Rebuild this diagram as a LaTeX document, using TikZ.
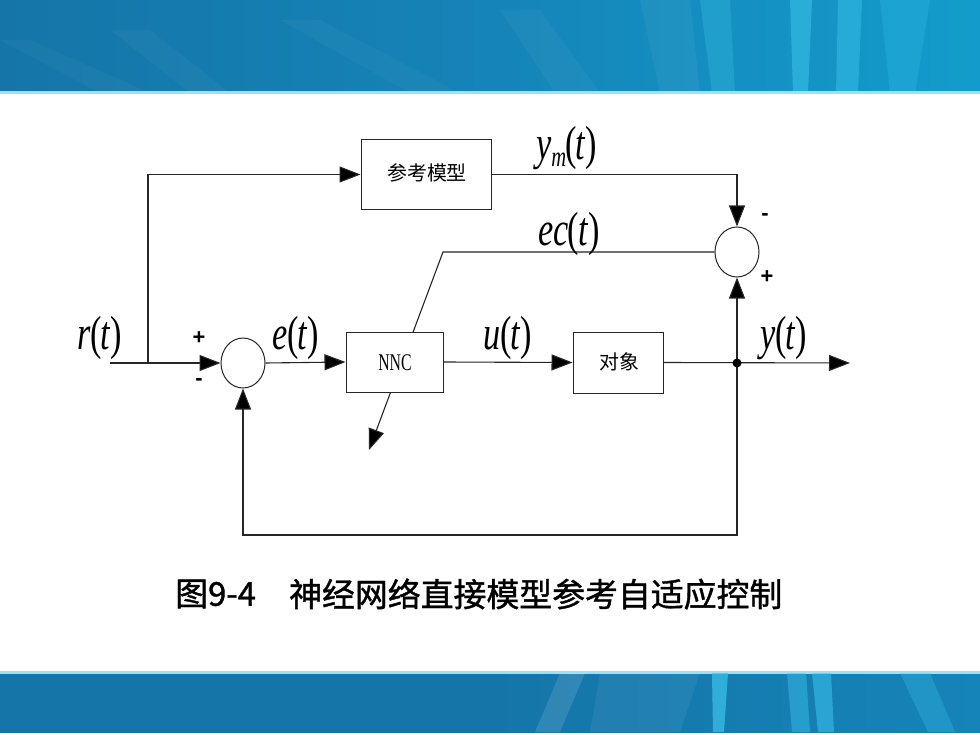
\documentclass[tikz,border=0pt]{standalone}
\usepackage{fontspec}
\setmainfont{Liberation Serif}
\newfontfamily\cjk{Noto Sans CJK SC}
\newfontfamily\cjkbold{Noto Sans CJK SC}[FakeBold=1.2]
\newfontfamily\sansf{Liberation Sans}
\usetikzlibrary{arrows.meta,shapes.geometric}
\definecolor{bandA}{HTML}{1575A8}
\definecolor{bandB}{HTML}{1584B8}
\definecolor{bandC}{HTML}{139CCB}
\definecolor{streak}{HTML}{3CC4EC}
\definecolor{wirec}{HTML}{262626}
\newcommand\sigl[1]{\scalebox{0.86}[1.2]{\textit{#1}\kern-1bp(\kern-1bp\textit{t}\kern-0.5bp)}}
\begin{document}
\begin{tikzpicture}[x=1bp,y=-1bp,
  wire/.style={draw=wirec, line width=1.1bp},
  arr/.style={-{Triangle[length=21bp,width=16bp,fill=black]}},
  blk/.style={draw=wirec, line width=1bp, fill=white, inner sep=0pt},
  sumnode/.style={ellipse, draw=wirec, line width=1bp, fill=white, minimum width=44bp, minimum height=50bp, inner sep=0pt},
  sig/.style={font=\fontsize{40}{40}\selectfont, inner sep=0pt},
  pm/.style={font=\sansf\bfseries\fontsize{22}{22}\selectfont, inner sep=0pt},
  boxtxt/.style={font=\cjk\fontsize{20}{20}\selectfont},
  captxt/.style={font=\cjkbold\fontsize{33}{33}\selectfont, inner sep=0pt}]
\useasboundingbox (0,0) rectangle (980,735);
\fill[white] (0,0) rectangle (980,735);
% top banner
\shade[left color=bandA, right color=bandC, middle color=bandB] (0,0) rectangle (980,93);
\fill[white, opacity=0.03] (0,40) -- (30,40) -- (150,93) -- (100,93) -- cycle;
\fill[white, opacity=0.03] (110,30) -- (150,30) -- (230,93) -- (190,93) -- cycle;
\fill[white, opacity=0.03] (280,20) -- (320,20) -- (460,93) -- (410,93) -- cycle;
\fill[white, opacity=0.035] (500,10) -- (540,10) -- (600,93) -- (555,93) -- cycle;
\fill[white, opacity=0.05] (640,0) -- (690,0) -- (700,93) -- (660,93) -- cycle;
\fill[streak, opacity=0.3] (700,0) -- (730,0) -- (735,93) -- (712,93) -- cycle;
\fill[streak, opacity=0.55] (790,0) -- (812,0) -- (808,93) -- (793,93) -- cycle;
\fill[streak, opacity=0.45] (838,0) -- (862,0) -- (858,93) -- (836,93) -- cycle;
\fill[streak, opacity=0.25] (880,0) -- (930,0) -- (915,93) -- (890,93) -- cycle;
\fill[streak!50!white] (0,91) rectangle (980,94);
% bottom banner
\shade[left color=bandA, right color=bandB, middle color=bandA] (0,672) rectangle (980,732);
\fill[streak!50!white] (0,671) rectangle (980,673.5);
\fill[white, opacity=0.12] (560,673) -- (585,673) -- (560,732) -- (535,732) -- cycle;
\fill[white, opacity=0.06] (600,673) -- (700,673) -- (680,732) -- (590,732) -- cycle;
\fill[streak, opacity=0.7] (712,673) -- (728,673) -- (724,732) -- (713,732) -- cycle;
\fill[streak, opacity=0.45] (787,673) -- (806,673) -- (810,732) -- (792,732) -- cycle;
\fill[streak, opacity=0.55] (812,673) -- (831,673) -- (834,732) -- (818,732) -- cycle;
\fill[streak, opacity=0.3] (900,673) -- (930,673) -- (955,732) -- (928,732) -- cycle;

% diagram nodes
\coordinate (in) at (110,363);
\coordinate (br) at (148,363);
\node[blk, minimum width=130bp, minimum height=69bp] (ref) at (426,174.5) {};
\node[boxtxt] (reft) at (427,173) {参考模型};
\node[sumnode] (s1) at (243,363) {};
\node[sumnode] (s2) at (737,252) {};
\coordinate (ecc) at (443,252);
\coordinate (ect) at (369,450);
\draw[wire, arr] (s2.west) -- (ecc) -- (ect);
\node[blk, minimum width=97bp, minimum height=60bp] (nnc) at (394.5,362) {};
\node[inner sep=0pt] (nnct) at (395,363) {\scalebox{0.66}[1]{\fontsize{24}{24}\selectfont NNC}};
\node[blk, minimum width=90bp, minimum height=61bp] (plant) at (618,362.5) {};
\node[boxtxt] (plantt) at (619,362) {对象};
\coordinate (jn) at (737,363);
\coordinate (out) at (850,363);
\coordinate (fb) at (737,535);

\draw[wire, arr] (in) -- (s1.west);
\draw[wire, arr] (br) |- (ref.west);
\draw[wire, arr] (ref.east) -| (s2.north);
\draw[wire, arr] (s1.east) -- (nnc.west);
\draw[wire, arr] (nnc.east) -- (plant.west);
\draw[wire, arr] (plant.east) -- (out);
\draw[wire, arr] (jn) -- (s2.south);
\draw[wire, arr] (jn) -- (fb) -| (s1.south);
\fill[black] (jn) circle (4.5bp);

% labels
\node[sig] (lr) at (100,338) {\sigl{r}};
\node[sig] (le) at (296,338) {\sigl{e}};
\node[sig] (lu) at (508,338) {\sigl{u}};
\node[sig] (ly) at (784,338) {\sigl{y}};
\node[sig] (lec) at (569,234) {\sigl{ec}};
\node[sig] (lym) at (567,148) {\scalebox{0.86}[1.2]{\textit{y}\kern-1bp\raisebox{-6bp}{\fontsize{24}{24}\selectfont\textit{m}}\kern-1bp(\kern-1bp\textit{t}\kern-0.5bp)}};
\node[pm] (p1) at (199,338) {+};
\node[pm] (m1) at (199,382) {-};
\node[pm] (m2) at (765,217) {-};
\node[pm] (p2) at (767,277) {+};

% caption
\node[captxt, anchor=west] (c1) at (175,594) {图9-4};
\node[captxt, anchor=west] (c2) at (289,594) {神经网络直接模型参考自适应控制};
\end{tikzpicture}
\end{document}
